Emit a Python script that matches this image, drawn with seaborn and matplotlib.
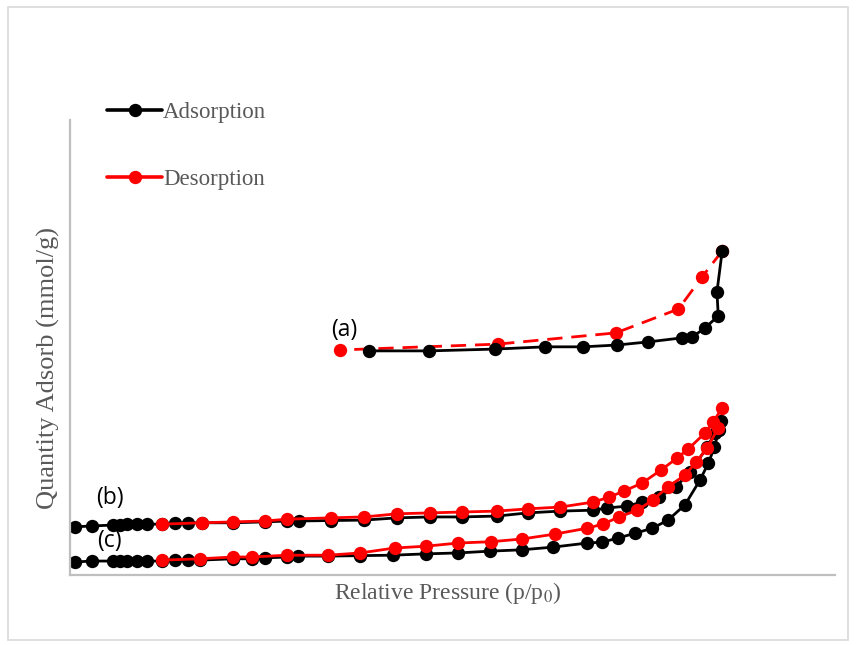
import matplotlib
matplotlib.use("Agg")
import matplotlib.pyplot as plt
from matplotlib.lines import Line2D
from matplotlib.patches import Rectangle
import seaborn as sns
import pandas as pd

# ---------------- data ----------------
# (a)
a_ads_p = [0.459, 0.551, 0.652, 0.729, 0.787, 0.839, 0.887, 0.939, 0.954, 0.974, 0.994, 0.992, 1.000]
a_ads_q = [4.98, 4.98, 5.02, 5.07, 5.07, 5.11, 5.18, 5.27, 5.29, 5.49, 5.76, 6.29, 7.20]
a_des_p = [1.000, 0.969, 0.933, 0.837, 0.656, 0.414]
a_des_q = [7.20, 6.62, 5.91, 5.38, 5.13, 5.00]

# (b)
b_ads_p = [0.008, 0.034, 0.066, 0.077, 0.087, 0.103, 0.118, 0.141, 0.161, 0.181, 0.202,
           0.250, 0.299, 0.333, 0.351, 0.400, 0.451, 0.502, 0.552, 0.601, 0.655, 0.702,
           0.752, 0.802, 0.824, 0.854, 0.877, 0.903, 0.929, 0.951, 0.977, 0.989, 0.998]
b_ads_q = [1.07, 1.09, 1.11, 1.11, 1.13, 1.13, 1.13, 1.13, 1.16, 1.16, 1.16,
           1.16, 1.18, 1.20, 1.20, 1.21, 1.22, 1.27, 1.29, 1.29, 1.31, 1.38,
           1.42, 1.44, 1.49, 1.53, 1.62, 1.73, 1.96, 2.29, 2.84, 3.16, 3.42]
b_des_p = [1.000, 0.986, 0.974, 0.948, 0.931, 0.906, 0.877, 0.850, 0.827, 0.802, 0.752,
           0.702, 0.655, 0.601, 0.552, 0.502, 0.451, 0.400, 0.333, 0.299, 0.250, 0.202, 0.141]
b_des_q = [3.71, 3.40, 3.16, 2.80, 2.60, 2.33, 2.04, 1.87, 1.73, 1.62, 1.51,
           1.47, 1.42, 1.40, 1.38, 1.36, 1.29, 1.27, 1.24, 1.20, 1.18, 1.16, 1.13]

# (c)
c_ads_p = [0.008, 0.034, 0.066, 0.077, 0.087, 0.103, 0.118, 0.141, 0.161, 0.181, 0.199,
           0.250, 0.279, 0.299, 0.333, 0.350, 0.396, 0.445, 0.495, 0.546, 0.595, 0.644,
           0.693, 0.741, 0.793, 0.816, 0.840, 0.867, 0.893, 0.917, 0.943, 0.966, 0.979,
           0.988, 0.995]
c_ads_q = [0.29, 0.31, 0.31, 0.31, 0.31, 0.31, 0.31, 0.31, 0.33, 0.33, 0.33,
           0.36, 0.36, 0.38, 0.40, 0.42, 0.42, 0.43, 0.44, 0.47, 0.49, 0.53,
           0.56, 0.62, 0.71, 0.73, 0.82, 0.93, 1.04, 1.22, 1.56, 2.11, 2.49,
           2.84, 3.22]
c_des_p = [0.994, 0.977, 0.960, 0.943, 0.917, 0.894, 0.870, 0.842, 0.817, 0.793, 0.744,
           0.693, 0.646, 0.595, 0.546, 0.498, 0.445, 0.396, 0.333, 0.279, 0.250, 0.199, 0.141]
c_des_q = [3.27, 2.82, 2.51, 2.22, 1.96, 1.67, 1.44, 1.29, 1.13, 1.04, 0.91,
           0.80, 0.74, 0.71, 0.64, 0.60, 0.49, 0.44, 0.44, 0.40, 0.40, 0.36, 0.33]

legend_labels = ["Adsorption", "Desorption"]
curve_labels = ["(a)", "(b)", "(c)"]

# ---------------- figure ----------------
sns.set_theme(style="white")
plt.rcParams["font.family"] = ["Liberation Serif", "DejaVu Serif"]
plt.rcParams["mathtext.fontset"] = "stix"

W, H = 856, 645
fig = plt.figure(figsize=(W / 100, H / 100), dpi=100)
ax = fig.add_axes([70 / W, 1 - 575 / H, (835 - 70) / W, (575 - 120) / H])

BLACK = "#000000"
RED = "#FF0000"
ms = 9.6
lw = 2.0

def draw(p, q, color, z, ls="-"):
    df = pd.DataFrame({"p": p, "q": q})
    sns.lineplot(data=df, x="p", y="q", sort=False, estimator=None, ax=ax,
                 color=color, marker="o", markersize=ms, markeredgewidth=0,
                 linewidth=lw, linestyle=ls, zorder=z)

draw(a_des_p, a_des_q, RED, 2, ls=(0, (5.5, 3.2)))
draw(a_ads_p, a_ads_q, BLACK, 3)
draw(b_ads_p, b_ads_q, BLACK, 2)
draw(b_des_p, b_des_q, RED, 3)
draw(c_ads_p, c_ads_q, BLACK, 2)
draw(c_des_p, c_des_q, RED, 3)

ax.set_xlim(0, 1.173)
ax.set_ylim(0, 10.11)
ax.set_xticks([])
ax.set_yticks([])
for s in ["top", "right"]:
    ax.spines[s].set_visible(False)
for s in ["left", "bottom"]:
    ax.spines[s].set_color("#BFBFBF")
    ax.spines[s].set_linewidth(1.6)

GRAY = "#595959"
ax.set_xlabel("Relative Pressure (p/p$_0$)", fontsize=17, color=GRAY)
ax.set_ylabel("Quantity Adsorb (mmol/g)", fontsize=19, color=GRAY)
ax.xaxis.set_label_coords((448 - 70) / (835 - 70), -(593 - 575) / (575 - 120))
ax.xaxis.label.set_va("center")
ax.yaxis.set_label_coords(-(70 - 48) / (835 - 70), (575 - 368) / (575 - 120))
ax.yaxis.label.set_va("center")

# curve labels
lab_font = dict(fontsize=16.5, color="black", family=["Open Sans", "DejaVu Sans"],
                ha="center", va="center")
ax.text(0.420, 5.45, curve_labels[0], **lab_font)
ax.text(0.061, 1.71, curve_labels[1], **lab_font)
ax.text(0.061, 0.76, curve_labels[2], **lab_font)

# legend
handles = [Line2D([], [], color=BLACK, marker="o", markersize=ms, markeredgewidth=0, linewidth=2.6),
           Line2D([], [], color=RED, marker="o", markersize=ms, markeredgewidth=0, linewidth=2.6)]
leg = fig.legend(handles, legend_labels, loc="upper left",
                 bbox_to_anchor=(107 / W, 1 - 102 / H), frameon=False,
                 fontsize=16.5, handlelength=2.4, handletextpad=0.05,
                 labelspacing=2.0, borderpad=0, borderaxespad=0)
for t in leg.get_texts():
    t.set_color(GRAY)

# outer light border
fig.patches.append(Rectangle((8 / W, 1 - 640 / H), (848 - 8) / W, (640 - 7) / H,
                             transform=fig.transFigure, fill=False,
                             edgecolor="#D9D9D9", linewidth=1.2))

fig.savefig("out.png", dpi=100)
